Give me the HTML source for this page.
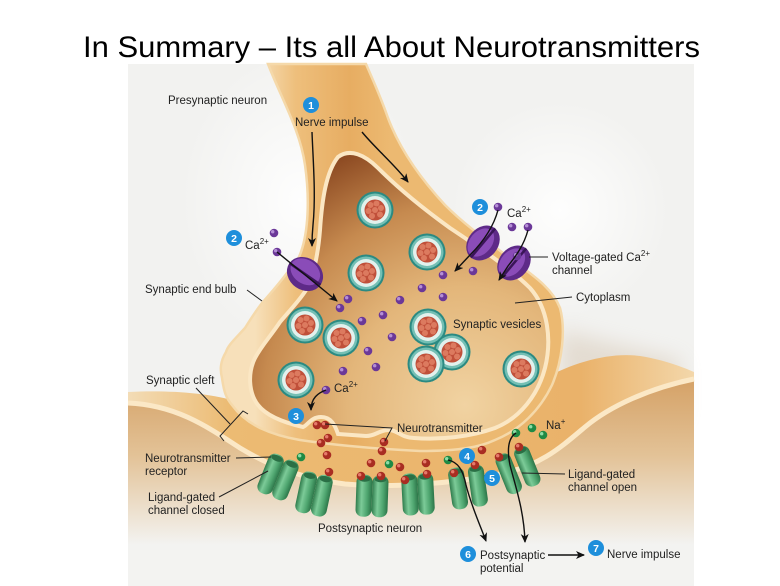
<!DOCTYPE html>
<html><head><meta charset="utf-8">
<style>
html,body{margin:0;padding:0;background:#fff;}
svg{display:block;}
text{font-family:"Liberation Sans",Arial,sans-serif;}
</style></head><body>
<svg width="780" height="586" viewBox="0 0 780 586" xmlns="http://www.w3.org/2000/svg" xmlns:xlink="http://www.w3.org/1999/xlink">
<defs>
 <radialGradient id="cyto" gradientUnits="userSpaceOnUse" cx="465" cy="405" r="280">
  <stop offset="0" stop-color="#f1d3a2"/>
  <stop offset="0.42" stop-color="#e3b67a"/>
  <stop offset="0.72" stop-color="#c68a4f"/>
  <stop offset="1" stop-color="#8a4720"/>
 </radialGradient>
 <linearGradient id="axon" gradientUnits="userSpaceOnUse" x1="255" y1="0" x2="390" y2="0">
  <stop offset="0" stop-color="#f7e0ba"/>
  <stop offset="0.3" stop-color="#eebf7c"/>
  <stop offset="0.7" stop-color="#e7ad62"/>
  <stop offset="1" stop-color="#ecb971"/>
 </linearGradient>
 <linearGradient id="rim" gradientUnits="userSpaceOnUse" x1="128" y1="0" x2="694" y2="0">
  <stop offset="0" stop-color="#f3dcb6"/>
  <stop offset="0.18" stop-color="#ecbb73"/>
  <stop offset="0.8" stop-color="#eab26a"/>
  <stop offset="1" stop-color="#f3d7aa"/>
 </linearGradient>
 <linearGradient id="postin" gradientUnits="userSpaceOnUse" x1="0" y1="385" x2="0" y2="545">
  <stop offset="0" stop-color="#d6a46a"/>
  <stop offset="0.45" stop-color="#e3c398"/>
  <stop offset="1" stop-color="#f3f3f1"/>
 </linearGradient>
 <linearGradient id="rg" x1="0" y1="0" x2="1" y2="0">
  <stop offset="0" stop-color="#2f7c4c"/>
  <stop offset="0.35" stop-color="#7ccb98"/>
  <stop offset="0.7" stop-color="#4ea56f"/>
  <stop offset="1" stop-color="#2c7548"/>
 </linearGradient>
 <radialGradient id="glow" cx="0.5" cy="0.5" r="0.5">
  <stop offset="0" stop-color="#ffffff" stop-opacity="0.9"/>
  <stop offset="1" stop-color="#ffffff" stop-opacity="0"/>
 </radialGradient>
 <filter id="blur" x="-20%" y="-20%" width="140%" height="140%"><feGaussianBlur stdDeviation="10"/></filter>
 <marker id="ah" markerWidth="10" markerHeight="10" refX="8" refY="4" orient="auto" markerUnits="userSpaceOnUse">
  <path d="M0,0 L9,4 L0,8 L2.5,4 Z" fill="#111"/>
 </marker>
 <g id="v">
  <circle r="18.5" fill="#2b8a82"/>
  <circle r="16.5" fill="#74bfb4"/>
  <circle r="14" fill="#e2f1ed"/>
  <circle r="10.5" fill="#c0503a"/>
  <g fill="#dc7a5f">
   <circle cx="-4.5" cy="-5" r="3"/><circle cx="1.5" cy="-6.5" r="3"/><circle cx="6" cy="-2" r="3"/>
   <circle cx="-6.5" cy="1" r="3"/><circle cx="0" cy="0" r="3"/><circle cx="5" cy="4.5" r="3"/><circle cx="-3" cy="6" r="3"/>
  </g>
 </g>
 <g id="c"><circle r="4.3" fill="#6b3898"/><circle cx="-1.3" cy="-1.3" r="1.7" fill="#b58fd6"/></g>
 <g id="r"><circle r="4.3" fill="#a92d22"/><circle cx="-1.3" cy="-1.3" r="1.7" fill="#e57b6b"/></g>
 <g id="g"><circle r="4.3" fill="#1f8a45"/><circle cx="-1.3" cy="-1.3" r="1.7" fill="#8ddda6"/></g>
 <g id="rc">
  <rect x="-16" y="-21" width="16" height="42" rx="7" fill="url(#rg)"/>
  <rect x="0" y="-21" width="16" height="42" rx="7" fill="url(#rg)"/>
  <ellipse cx="-8" cy="-17" rx="6" ry="3" fill="#2a6f45"/>
  <ellipse cx="8" cy="-17" rx="6" ry="3" fill="#2a6f45"/>
 </g>
 <g id="ro">
  <rect x="-18" y="-21" width="16" height="42" rx="7" fill="url(#rg)"/>
  <rect x="2" y="-21" width="16" height="42" rx="7" fill="url(#rg)"/>
  <ellipse cx="-10" cy="-17" rx="6" ry="3" fill="#2a6f45"/>
  <ellipse cx="10" cy="-17" rx="6" ry="3" fill="#2a6f45"/>
 </g>
</defs>

<rect width="780" height="586" fill="#fff"/>
<text x="83" y="57" font-size="30" fill="#000" textLength="617" lengthAdjust="spacingAndGlyphs">In Summary – Its all About Neurotransmitters</text>

<rect x="128" y="64" width="566" height="522" fill="#f2f2f0"/>
<ellipse cx="300" cy="200" rx="120" ry="150" fill="url(#glow)"/>
<ellipse cx="560" cy="210" rx="110" ry="110" fill="url(#glow)"/>
<path d="M560,330 C600,340 640,350 680,360 L680,420 C620,430 580,430 560,420 Z" fill="#c9b49a" opacity="0.35" filter="url(#blur)"/>

<path d="M128,392 C170,390 205,393 232,400 L545,378 C575,362 610,352 640,356 C665,360 685,368 694,372 L694,379 C650,388 610,406 585,427 C560,448 540,466 500,474 C450,484 390,488 345,484 C300,478 270,466 240,448 C205,425 175,405 128,403 Z" fill="url(#rim)"/>
<path d="M128,403 C175,405 205,425 240,448 C270,466 300,478 345,484 C390,488 450,484 500,474 C540,466 560,448 585,427 C610,406 650,388 694,379 L694,586 L128,586 Z" fill="url(#postin)"/>
<path d="M128,403 C175,405 205,425 240,448 C270,466 300,478 345,484 C390,488 450,484 500,474 C540,466 560,448 585,427 C610,406 650,388 694,379" fill="none" stroke="#fbe8c6" stroke-width="5"/>

<path d="M268,64 C282,100 300,130 305,165 C310,200 308,232 301,252 C296,265 292,270 287,273 C278,285 270,294 262,303 C255,312 250,320 245,328 C236,338 228,345 226,352 C220,362 220,370 222,378 C224,392 226,398 232,405 C240,416 250,423 260,428 C275,435 288,438 300,440 C340,446 380,449 420,451 C460,451 480,447 495,440 C520,430 540,410 552,385 C562,362 566,330 560,308 C553,290 537,278 515,262 C490,243 465,225 445,205 C420,178 400,150 388,118 C380,95 372,78 366,64 Z" fill="url(#axon)" stroke="#f5d9aa" stroke-width="2.5"/>
<path d="M338,157 C350,148 365,155 378,168 C398,188 425,210 450,228 C480,248 510,268 530,288 C548,308 552,340 545,368 C538,395 520,418 495,428 C470,437 440,440 414,438 C402,438 397,430 389,430 C379,430 376,436 366,436 L338,434 C335,425 331,417 321,417 C311,417 308,425 303,427 C290,424 268,418 258,405 C248,392 248,372 255,358 C262,345 270,337 280,322 C290,310 300,300 306,290 C314,275 318,255 320,230 C322,200 326,172 338,157 Z" fill="url(#cyto)" stroke="#fbe7c4" stroke-width="4"/>

<use href="#v" xlink:href="#v" x="375" y="210"/>
<use href="#v" xlink:href="#v" x="427" y="252"/>
<use href="#v" xlink:href="#v" x="366" y="273"/>
<use href="#v" xlink:href="#v" x="305" y="325"/>
<use href="#v" xlink:href="#v" x="341" y="338"/>
<use href="#v" xlink:href="#v" x="428" y="327"/>
<use href="#v" xlink:href="#v" x="452" y="352"/>
<use href="#v" xlink:href="#v" x="426" y="364"/>
<use href="#v" xlink:href="#v" x="521" y="369"/>
<use href="#v" xlink:href="#v" x="296" y="380"/>

<g>
<use href="#c" xlink:href="#c" x="340" y="308"/><use href="#c" xlink:href="#c" x="348" y="299"/>
<use href="#c" xlink:href="#c" x="400" y="300"/><use href="#c" xlink:href="#c" x="422" y="288"/>
<use href="#c" xlink:href="#c" x="443" y="275"/><use href="#c" xlink:href="#c" x="473" y="271"/>
<use href="#c" xlink:href="#c" x="443" y="297"/><use href="#c" xlink:href="#c" x="383" y="315"/>
<use href="#c" xlink:href="#c" x="362" y="321"/><use href="#c" xlink:href="#c" x="392" y="337"/>
<use href="#c" xlink:href="#c" x="368" y="351"/><use href="#c" xlink:href="#c" x="343" y="371"/>
<use href="#c" xlink:href="#c" x="376" y="367"/><use href="#c" xlink:href="#c" x="326" y="390"/>
<use href="#c" xlink:href="#c" x="274" y="233"/><use href="#c" xlink:href="#c" x="277" y="252"/>
<use href="#c" xlink:href="#c" x="498" y="207"/><use href="#c" xlink:href="#c" x="512" y="227"/>
<use href="#c" xlink:href="#c" x="528" y="227"/>
</g>

<g transform="translate(305,274) rotate(35)">
 <ellipse rx="19" ry="16" fill="#5e2a88"/>
 <ellipse cx="-1" cy="-2" rx="16" ry="12" fill="#8a4cb8"/>
 <line x1="-19" y1="0" x2="19" y2="0" stroke="#3a1558" stroke-width="2.5"/>
</g>
<g transform="translate(483,243) rotate(-50)">
 <ellipse rx="19" ry="15" fill="#5e2a88"/>
 <ellipse cx="-1" cy="-2" rx="16" ry="11" fill="#8a4cb8"/>
 <line x1="-19" y1="0" x2="19" y2="0" stroke="#3a1558" stroke-width="2.5"/>
</g>
<g transform="translate(514,263) rotate(-50)">
 <ellipse rx="19" ry="15" fill="#5e2a88"/>
 <ellipse cx="-1" cy="-2" rx="16" ry="11" fill="#8a4cb8"/>
 <line x1="-19" y1="0" x2="19" y2="0" stroke="#3a1558" stroke-width="2.5"/>
</g>
<use href="#c" xlink:href="#c" x="517" y="256"/>

<g transform="translate(278,477) rotate(22)"><use href="#rc" xlink:href="#rc"/></g>
<g transform="translate(314,494) rotate(12)"><use href="#rc" xlink:href="#rc"/></g>
<g transform="translate(372,496) rotate(2)"><use href="#rc" xlink:href="#rc"/></g>
<g transform="translate(418,494) rotate(-3)"><use href="#rc" xlink:href="#rc"/></g>
<g transform="translate(468,487) rotate(-8)"><use href="#ro" xlink:href="#ro"/></g>
<g transform="translate(518,470) rotate(-22)"><use href="#ro" xlink:href="#ro"/></g>

<g>
<use href="#r" xlink:href="#r" x="317" y="425"/><use href="#r" xlink:href="#r" x="325" y="425"/>
<use href="#r" xlink:href="#r" x="328" y="438"/><use href="#r" xlink:href="#r" x="321" y="443"/>
<use href="#r" xlink:href="#r" x="327" y="455"/><use href="#r" xlink:href="#r" x="329" y="472"/>
<use href="#r" xlink:href="#r" x="361" y="476"/><use href="#r" xlink:href="#r" x="371" y="463"/>
<use href="#r" xlink:href="#r" x="381" y="476"/><use href="#r" xlink:href="#r" x="384" y="442"/>
<use href="#r" xlink:href="#r" x="382" y="451"/><use href="#r" xlink:href="#r" x="400" y="467"/>
<use href="#r" xlink:href="#r" x="426" y="463"/><use href="#r" xlink:href="#r" x="405" y="480"/>
<use href="#r" xlink:href="#r" x="427" y="474"/><use href="#r" xlink:href="#r" x="454" y="473"/>
<use href="#r" xlink:href="#r" x="475" y="465"/><use href="#r" xlink:href="#r" x="482" y="450"/>
<use href="#r" xlink:href="#r" x="499" y="457"/><use href="#r" xlink:href="#r" x="519" y="447"/>
<use href="#g" xlink:href="#g" x="301" y="457"/><use href="#g" xlink:href="#g" x="389" y="464"/>
<use href="#g" xlink:href="#g" x="448" y="460"/><use href="#g" xlink:href="#g" x="516" y="433"/>
<use href="#g" xlink:href="#g" x="532" y="428"/><use href="#g" xlink:href="#g" x="543" y="435"/>
</g>

<g fill="none" stroke="#111" stroke-width="1.4">
 <path d="M312,132 C313,160 316,195 313,225 C312,235 312,240 312,246" marker-end="url(#ah)"/>
 <path d="M362,132 C375,148 395,165 408,182" marker-end="url(#ah)"/>
 <path d="M277,252 L337,301" marker-end="url(#ah)"/>
 <path d="M498,210 C494,225 485,240 470,255 L455,271" marker-end="url(#ah)"/>
 <path d="M528,230 C524,245 516,256 508,266 L499,280" marker-end="url(#ah)"/>
 <path d="M326,390 C318,393 311,398 311,410" marker-end="url(#ah)"/>
 <path d="M448,460 C458,462 463,470 466,485 C471,505 480,525 486,541" marker-end="url(#ah)"/>
 <path d="M516,433 C508,438 507,450 510,465 C515,485 524,510 525,542" marker-end="url(#ah)"/>
 <path d="M548,555 L584,555" marker-end="url(#ah)"/>
</g>
<g fill="none" stroke="#222" stroke-width="1">
 <path d="M247,290 L262,301"/>
 <path d="M529,257 L548,257"/>
 <path d="M515,303 L572,297"/>
 <path d="M196,388 L230,424"/>
 <path d="M224,441 L220,436 L243,411 L248,414"/>
 <path d="M236,458 L271,457"/>
 <path d="M219,497 L268,471"/>
 <path d="M325,424 L392,428 L385,441"/>
 <path d="M522,473 L565,474"/>
</g>

<g fill="#1e8fdb">
 <circle cx="311" cy="105" r="8"/>
 <circle cx="234" cy="238" r="8"/>
 <circle cx="480" cy="207" r="8"/>
 <circle cx="296" cy="416" r="8"/>
 <circle cx="467" cy="456" r="8"/>
 <circle cx="492" cy="478" r="8"/>
 <circle cx="468" cy="554" r="8"/>
 <circle cx="596" cy="548" r="8"/>
</g>
<g fill="#fff" font-size="10.5" font-weight="bold" text-anchor="middle">
 <text x="311" y="109">1</text>
 <text x="234" y="242">2</text>
 <text x="480" y="211">2</text>
 <text x="296" y="420">3</text>
 <text x="467" y="460">4</text>
 <text x="492" y="482">5</text>
 <text x="468" y="558">6</text>
 <text x="596" y="552">7</text>
</g>

<g fill="#222" font-size="11.5">
 <text x="168" y="104">Presynaptic neuron</text>
 <text x="295" y="126">Nerve impulse</text>
 <text x="245" y="249">Ca<tspan font-size="8" dy="-5">2+</tspan></text>
 <text x="507" y="217">Ca<tspan font-size="8" dy="-5">2+</tspan></text>
 <text x="552" y="261">Voltage-gated Ca<tspan font-size="8" dy="-5">2+</tspan></text>
 <text x="552" y="274">channel</text>
 <text x="576" y="301">Cytoplasm</text>
 <text x="145" y="293">Synaptic end bulb</text>
 <text x="453" y="328">Synaptic vesicles</text>
 <text x="146" y="384">Synaptic cleft</text>
 <text x="334" y="392">Ca<tspan font-size="8" dy="-5">2+</tspan></text>
 <text x="397" y="432">Neurotransmitter</text>
 <text x="546" y="429">Na<tspan font-size="8" dy="-5">+</tspan></text>
 <text x="145" y="462">Neurotransmitter</text>
 <text x="145" y="475">receptor</text>
 <text x="148" y="501">Ligand-gated</text>
 <text x="148" y="514">channel closed</text>
 <text x="568" y="478">Ligand-gated</text>
 <text x="568" y="491">channel open</text>
 <text x="318" y="532">Postsynaptic neuron</text>
 <text x="480" y="559">Postsynaptic</text>
 <text x="480" y="572">potential</text>
 <text x="607" y="558">Nerve impulse</text>
</g>
</svg>
</body></html>
